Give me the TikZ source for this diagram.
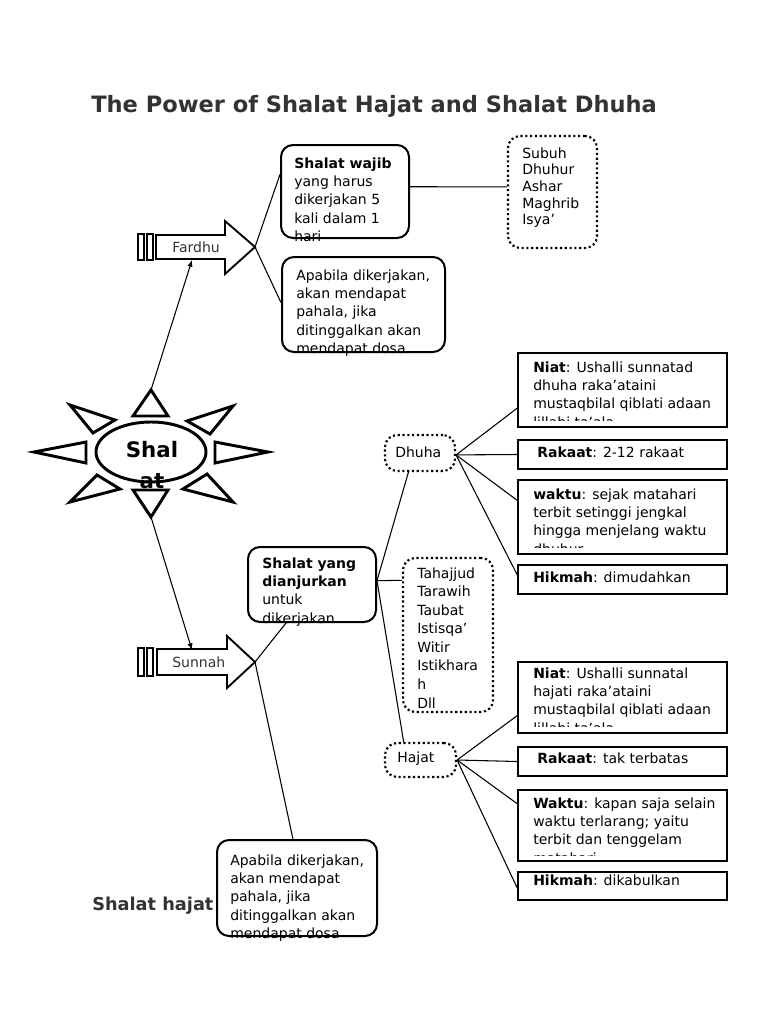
\documentclass[tikz,border=0pt]{standalone}
\usepackage{fontspec}
\setmainfont{DejaVu Sans}
\usetikzlibrary{fit,calc,arrows.meta,shapes.geometric}
\definecolor{ttl}{HTML}{333333}
\begin{document}
\begin{tikzpicture}[x=0.75pt,y=-0.75pt,
  rbox/.style={draw, line width=1.5pt, rounded corners=9pt, inner sep=0pt},
  dbox/.style={draw, line width=1.6pt, rounded corners=9pt, inner sep=0pt, dash pattern=on 1.6pt off 2pt},
  sbox/.style={draw, line width=1.1pt, inner sep=0pt},
  conn/.style={line width=0.8pt},
  arr/.style={line width=0.8pt, -{Latex[length=5pt,width=4pt]}},
  arrshape/.style={line width=1.4pt, line join=miter},
  sunline/.style={line width=2.2pt, line join=miter},
  txt/.style={inner sep=0pt, align=left, anchor=north west, font=\fontsize{10.5}{13.7}\selectfont},
  one/.style={inner sep=0pt, anchor=base west, font=\fontsize{10.5}{13.7}\selectfont},
]
\useasboundingbox[fill=white] (0,0) rectangle (768,1024);

% title
\node[inner sep=0pt, anchor=base west, text=ttl, font=\fontsize{16.9}{20}\selectfont\bfseries] (title) at (91,113) {The Power of Shalat Hajat and Shalat Dhuha};

% ---------- sun ----------
\node[draw, ellipse, line width=2.2pt, minimum width=82.5pt, minimum height=45pt, inner sep=0pt] (sun) at (151,452) {};
\node[inner sep=0pt, anchor=north, align=center, font=\fontsize{16}{23.5}\selectfont\bfseries] (suntext) at (152,441) {Shal\\at};
\draw[sunline] (151,390) -- (168,416) -- (133,416) -- cycle;
\draw[sunline, fill=white] (133,490) -- (168,490) -- (151,517) -- cycle;
\draw[sunline] (34,452) -- (86,442) -- (86,463) -- cycle;
\draw[sunline] (268,452) -- (215,442) -- (215,463) -- cycle;
\draw[sunline] (70,405) -- (115,420) -- (93,433) -- cycle;
\draw[sunline] (233,406) -- (187,421) -- (210,434) -- cycle;
\draw[sunline] (70,502) -- (97,475) -- (120,489) -- cycle;
\draw[sunline] (233,502) -- (183,489) -- (207,474) -- cycle;
\coordinate (suntop) at (151,390);
\coordinate (sunbot) at (151,517);

% ---------- Fardhu arrow ----------
\draw[arrshape] (138,234) rectangle (144,260);
\draw[arrshape] (147,234) rectangle (153,260);
\draw[arrshape] (156,235) -- (225,235) -- (225,221) -- (255,247) -- (225,274) -- (225,259) -- (156,259) -- cycle;
\coordinate (ftip) at (255,247);
\coordinate (fbot) at (192,260);
\node[one, text=ttl] (fardhuT) at (172,252) {Fardhu};

% ---------- Sunnah arrow ----------
\draw[arrshape] (138,648) rectangle (144,676);
\draw[arrshape] (147,648) rectangle (153,676);
\draw[arrshape] (157,649) -- (227,649) -- (227,636) -- (255,662) -- (227,688) -- (227,675) -- (157,675) -- cycle;
\coordinate (stip) at (255,662);
\coordinate (stop) at (192,650);
\node[one, text=ttl] (sunnahT) at (172,667) {Sunnah};

% ---------- top boxes ----------
\node[rbox, fit={(281,145)(409,238)}] (wajib) {};
\node[txt] (wajibT) at (294,157.4) {\textbf{Shalat wajib}\\yang harus\\dikerjakan 5\\kali dalam 1\\hari};
\node[dbox, fit={(508,136)(597,248)}] (subuh) {};
\node[txt, font=\fontsize{10.5}{12.5}\selectfont] (subuhT) at (522,147.4) {Subuh\\Dhuhur\\Ashar\\Maghrib\\Isya’};
\node[rbox, fit={(282,257)(445,352)}] (apa1) {};
\node[txt] (apa1T) at (296,269.4) {Apabila dikerjakan,\\akan mendapat\\pahala, jika\\ditinggalkan akan\\mendapat dosa};

% ---------- sunnah boxes ----------
\node[rbox, fit={(248,547)(376,622)}] (yang) {};
\node[txt] (yangT) at (262,557.4) {\textbf{Shalat yang}\\\textbf{dianjurkan}\\untuk\\dikerjakan};
\node[dbox, fit={(403,558)(493,712)}] (taha) {};
\node[txt, font=\fontsize{10.5}{13.9}\selectfont] (tahaT) at (417,567.4) {Tahajjud\\Tarawih\\Taubat\\Istisqa’\\Witir\\Istikhara\\h\\Dll};
\node[rbox, fit={(217,840)(377,936)}] (apa2) {};
\node[txt] (apa2T) at (230,854.4) {Apabila dikerjakan,\\akan mendapat\\pahala, jika\\ditinggalkan akan\\mendapat dosa};
\node[inner sep=0pt, anchor=base west, text=ttl, font=\fontsize{13.3}{16}\selectfont\bfseries] (hajatLabel) at (92,910) {Shalat hajat};

% ---------- Dhuha ----------
\node[dbox, fit={(385,435)(455,471)}] (dhuha) {};
\node[one] (dhuhaT) at (395,457) {Dhuha};
\node[sbox, fit={(518,353)(727,427)}] (dniat) {};
\begin{scope}
\clip (518,353) rectangle (727,420);
\node[txt] (dniatT) at (533,361.4) {\textbf{Niat}: Ushalli sunnatad\\dhuha raka’ataini\\mustaqbilal qiblati adaan\\lillahi ta’ala};
\end{scope}
\node[sbox, fit={(518,440)(727,469)}] (drak) {};
\node[one] (drakT) at (537,457) {\textbf{Rakaat}: 2-12 rakaat};
\node[sbox, fit={(518,480)(727,554)}] (dwak) {};
\begin{scope}
\clip (518,480) rectangle (727,547);
\node[txt] (dwakT) at (533,488.4) {\textbf{waktu}: sejak matahari\\terbit setinggi jengkal\\hingga menjelang waktu\\dhuhur};
\end{scope}
\node[sbox, fit={(518,565)(727,594)}] (dhik) {};
\node[one] (dhikT) at (533,582) {\textbf{Hikmah}: dimudahkan};

% ---------- Hajat ----------
\node[dbox, fit={(385,743)(456,777)}] (hajat) {};
\node[one] (hajatT) at (397,762) {Hajat};
\node[sbox, fit={(518,662)(727,733)}] (hniat) {};
\begin{scope}
\clip (518,662) rectangle (727,726);
\node[txt] (hniatT) at (533,667.4) {\textbf{Niat}: Ushalli sunnatal\\hajati raka’ataini\\mustaqbilal qiblati adaan\\lillahi ta’ala};
\end{scope}
\node[sbox, fit={(518,747)(727,776)}] (hrak) {};
\node[one] (hrakT) at (537,763) {\textbf{Rakaat}: tak terbatas};
\node[sbox, fit={(518,790)(727,861)}] (hwak) {};
\begin{scope}
\clip (518,790) rectangle (727,855.5);
\node[txt] (hwakT) at (533,797.4) {\textbf{Waktu}: kapan saja selain\\waktu terlarang; yaitu\\terbit dan tenggelam\\matahari};
\end{scope}
\node[sbox, fit={(518,872)(727,900)}] (hhik) {};
\node[one] (hhikT) at (533,885) {\textbf{Hikmah}: dikabulkan};

% ---------- connectors ----------
\draw[arr] (suntop) -- (fbot);
\draw[arr] (sunbot) -- (stop);
\draw[conn] (ftip) -- ($(wajib.north west)!0.32!(wajib.south west)$);
\draw[conn] (ftip) -- ($(apa1.north west)!0.48!(apa1.south west)$);
\draw[conn] ($(wajib.north east)!0.45!(wajib.south east)$) -- ($(subuh.north west)!0.455!(subuh.south west)$);
\draw[conn] (stip) -- ($(yang.south west)!0.30!(yang.south east)$);
\draw[conn] (stip) -- ($(apa2.north west)!0.475!(apa2.north east)$);
\coordinate (yangE) at ($(yang.north east)!0.45!(yang.south east)$);
\draw[conn] (yangE) -- ($(taha.north west)!0.15!(taha.south west)$);
\draw[conn] (yangE) -- ($(dhuha.south west)!0.34!(dhuha.south east)$);
\draw[conn] (yangE) -- ($(hajat.north west)!0.27!(hajat.north east)$);
\coordinate (dhuhaE) at ($(dhuha.north east)!0.55!(dhuha.south east)$);
\draw[conn] (dhuhaE) -- ($(dniat.north west)!0.74!(dniat.south west)$);
\draw[conn] (dhuhaE) -- (drak.west);
\draw[conn] (dhuhaE) -- ($(dwak.north west)!0.28!(dwak.south west)$);
\draw[conn] (dhuhaE) -- ($(dhik.north west)!0.35!(dhik.south west)$);
\coordinate (hajatE) at (hajat.east);
\draw[conn] (hajatE) -- ($(hniat.north west)!0.75!(hniat.south west)$);
\draw[conn] (hajatE) -- (hrak.west);
\draw[conn] (hajatE) -- ($(hwak.north west)!0.2!(hwak.south west)$);
\draw[conn] (hajatE) -- ($(hhik.north west)!0.57!(hhik.south west)$);
\end{tikzpicture}
\end{document}
